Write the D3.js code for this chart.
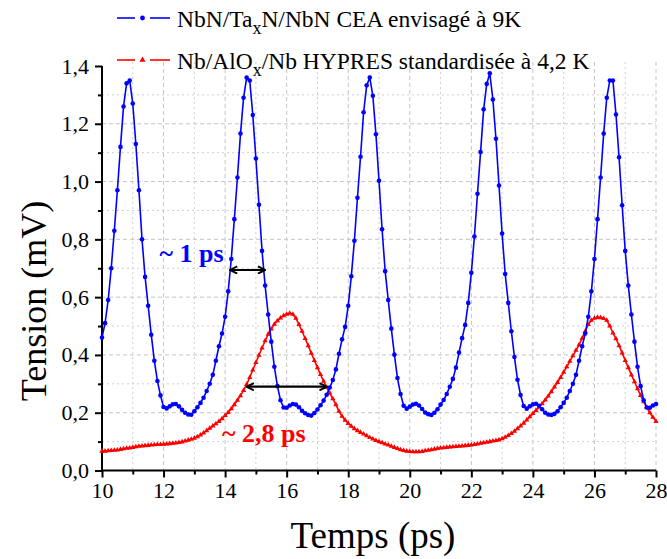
<!DOCTYPE html>
<html><head><meta charset="utf-8">
<script src="https://cdn.jsdelivr.net/npm/d3@7"></script>
<style>body{margin:0;background:#fff}svg{display:block}</style>
</head><body>
<svg id="chart" width="667" height="559"></svg>
<script>
// ---------- DATA ----------
const times = [10,10.1,10.2,10.3,10.4,10.5,10.6,10.7,10.8,10.9,11,11.1,11.2,11.3,11.4,11.5,11.6,11.7,11.8,11.9,
12,12.1,12.2,12.3,12.4,12.5,12.6,12.7,12.8,12.9,13,13.1,13.2,13.3,13.4,13.5,13.6,13.7,13.8,13.9,
14,14.1,14.2,14.3,14.4,14.5,14.6,14.7,14.8,14.9,15,15.1,15.2,15.3,15.4,15.5,15.6,15.7,15.8,15.9,
16,16.1,16.2,16.3,16.4,16.5,16.6,16.7,16.8,16.9,17,17.1,17.2,17.3,17.4,17.5,17.6,17.7,17.8,17.9,
18,18.1,18.2,18.3,18.4,18.5,18.6,18.7,18.8,18.9,19,19.1,19.2,19.3,19.4,19.5,19.6,19.7,19.8,19.9,
20,20.1,20.2,20.3,20.4,20.5,20.6,20.7,20.8,20.9,21,21.1,21.2,21.3,21.4,21.5,21.6,21.7,21.8,21.9,
22,22.1,22.2,22.3,22.4,22.5,22.6,22.7,22.8,22.9,23,23.1,23.2,23.3,23.4,23.5,23.6,23.7,23.8,23.9,
24,24.1,24.2,24.3,24.4,24.5,24.6,24.7,24.8,24.9,25,25.1,25.2,25.3,25.4,25.5,25.6,25.7,25.8,25.9,
26,26.1,26.2,26.3,26.4,26.5,26.6,26.7,26.8,26.9,27,27.1,27.2,27.3,27.4,27.5,27.6,27.7,27.8,27.9,28];

const nbnValues = [0.46,0.51,0.59,0.70,0.83,0.97,1.12,1.26,1.34,1.35,1.27,1.13,0.97,0.80,0.67,0.57,0.47,0.38,0.31,0.26,
0.22,0.215,0.222,0.229,0.23,0.222,0.21,0.2,0.194,0.193,0.205,0.219,0.234,0.252,0.275,0.30,0.331,0.38,0.43,0.474,
0.532,0.62,0.732,0.87,1.014,1.166,1.29,1.36,1.35,1.23,1.08,0.92,0.76,0.64,0.54,0.446,0.359,0.292,0.243,0.218,
0.217,0.225,0.23,0.228,0.219,0.207,0.198,0.192,0.19,0.199,0.211,0.226,0.242,0.262,0.287,0.313,0.35,0.404,0.454,0.497,
0.57,0.672,0.795,0.944,1.086,1.24,1.333,1.36,1.297,1.164,1.003,0.835,0.69,0.59,0.491,0.401,0.32,0.265,0.224,0.214,
0.221,0.228,0.231,0.225,0.213,0.201,0.195,0.192,0.2,0.212,0.228,0.244,0.265,0.29,0.317,0.356,0.408,0.458,0.504,0.58,
0.684,0.81,0.958,1.102,1.25,1.338,1.375,1.284,1.148,0.986,0.82,0.68,0.58,0.482,0.393,0.314,0.261,0.223,0.214,0.222,
0.229,0.231,0.224,0.212,0.2,0.194,0.192,0.196,0.205,0.219,0.234,0.252,0.275,0.30,0.331,0.38,0.43,0.474,0.532,0.62,
0.732,0.87,1.014,1.166,1.29,1.35,1.35,1.232,1.084,0.918,0.76,0.64,0.54,0.446,0.359,0.292,0.243,0.218,0.217,0.225,0.23];

const nbValues = [0.067,0.067,0.068,0.069,0.07,0.071,0.073,0.075,0.077,0.078,0.08,0.082,0.084,0.085,0.086,0.087,0.088,0.089,0.09,0.09,
0.091,0.092,0.093,0.094,0.095,0.097,0.099,0.102,0.105,0.108,0.112,0.117,0.123,0.13,0.138,0.146,0.154,0.162,0.17,0.179,
0.19,0.201,0.214,0.228,0.243,0.259,0.277,0.298,0.322,0.348,0.374,0.399,0.424,0.449,0.472,0.49,0.506,0.518,0.528,0.536,
0.541,0.544,0.541,0.527,0.505,0.482,0.457,0.432,0.406,0.381,0.356,0.332,0.309,0.288,0.268,0.248,0.228,0.205,0.188,0.174,
0.163,0.153,0.145,0.138,0.132,0.126,0.12,0.114,0.109,0.104,0.1,0.096,0.092,0.088,0.084,0.08,0.076,0.072,0.069,0.067,
0.066,0.065,0.065,0.065,0.066,0.068,0.07,0.072,0.074,0.076,0.078,0.079,0.08,0.081,0.082,0.083,0.084,0.085,0.086,0.087,
0.088,0.09,0.092,0.094,0.096,0.098,0.1,0.102,0.104,0.106,0.11,0.115,0.121,0.128,0.136,0.145,0.154,0.164,0.175,0.186,
0.197,0.208,0.219,0.231,0.244,0.258,0.273,0.289,0.305,0.322,0.34,0.359,0.378,0.397,0.416,0.435,0.458,0.482,0.505,0.52,
0.527,0.53,0.529,0.526,0.52,0.5,0.476,0.456,0.432,0.407,0.381,0.356,0.331,0.307,0.283,0.26,0.238,0.218,0.2,0.184,0.17];

const seriesNames = ["NbN/Ta|x|N/NbN CEA envisagé à 9K", "Nb/AlO|x|/Nb HYPRES standardisée à 4,2 K"];
const xTickValues = [10,12,14,16,18,20,22,24,26,28];
const xTickLabels = ["10","12","14","16","18","20","22","24","26","28"];
const yTickValues = [0,0.2,0.4,0.6,0.8,1.0,1.2,1.4];
const yTickLabels = ["0,0","0,2","0,4","0,6","0,8","1,0","1,2","1,4"];
const xTitle = "Temps (ps)";
const yTitle = "Tension (mV)";
// annotations
const annoLabels = ["~ 1 ps", "~ 2,8 ps"];
const annoArrowFrom = [14.16, 14.70];
const annoArrowTo = [15.30, 17.30];
const annoArrowValue = [0.694, 0.29];
const annoTextTime = [11.87, 13.9];
const annoTextValue = [0.72, 0.10];

// ---------- DRAW ----------
const svg = d3.select("#chart");
const L = 102, R = 656, T = 66, B = 470.5;
const x = d3.scaleLinear().domain([10, 28]).range([L, R]);
const y = d3.scaleLinear().domain([0, 1.4]).range([B, T]);
const serif = "'Liberation Serif','Times New Roman',serif";
const blue = "#0000ff", red = "#ff0000";

svg.append("rect").attr("width",667).attr("height",559).attr("fill","#fff");

// grid
const g = svg.append("g");
const xMinor = d3.range(11, 28, 2), yMinor = d3.range(0.1, 1.4, 0.2);
g.selectAll(".gxM").data(xTickValues.slice(1)).enter().append("line")
  .attr("x1", d=>x(d)).attr("x2", d=>x(d)).attr("y1", T-4).attr("y2", B)
  .attr("stroke","#c4c4c4").attr("stroke-width",1).attr("stroke-dasharray","4,3");
g.selectAll(".gxm").data(xMinor).enter().append("line")
  .attr("x1", d=>x(d)).attr("x2", d=>x(d)).attr("y1", T-4).attr("y2", B)
  .attr("stroke","#d0d0d0").attr("stroke-width",1).attr("stroke-dasharray","2,3");
g.selectAll(".gyM").data(yTickValues.slice(1,-1)).enter().append("line")
  .attr("x1", L).attr("x2", R).attr("y1", d=>y(d)).attr("y2", d=>y(d))
  .attr("stroke","#c4c4c4").attr("stroke-width",1).attr("stroke-dasharray","4,3");
g.selectAll(".gym").data(yMinor).enter().append("line")
  .attr("x1", L).attr("x2", R).attr("y1", d=>y(d)).attr("y2", d=>y(d))
  .attr("stroke","#d0d0d0").attr("stroke-width",1).attr("stroke-dasharray","2,3");

// axes
const xAxis = d3.axisBottom(x).tickValues(xTickValues).tickFormat((d,i)=>xTickLabels[i]).tickSize(7).tickPadding(5);
const xAxisMinor = d3.axisBottom(x).tickValues(xMinor).tickFormat("").tickSize(4);
const yAxis = d3.axisLeft(y).tickValues(yTickValues).tickFormat((d,i)=>yTickLabels[i]).tickSize(7).tickPadding(6);
const yAxisMinor = d3.axisLeft(y).tickValues(yMinor).tickFormat("").tickSize(4);

function styleAxis(sel){
  sel.select(".domain").attr("stroke","#000").attr("stroke-width",2);
  sel.selectAll(".tick line").attr("stroke","#000").attr("stroke-width",2);
  sel.selectAll("text").attr("font-family",serif).attr("font-size",22).attr("fill","#000");
}
const gx = svg.append("g").attr("transform",`translate(0,${B})`).call(xAxis).call(styleAxis);
gx.select(".domain").attr("d",`M${L},0H${R}`);
svg.append("g").attr("transform",`translate(0,${B})`).call(xAxisMinor).call(styleAxis).select(".domain").remove();
const gy = svg.append("g").attr("transform",`translate(${L},0)`).call(yAxis).call(styleAxis);
gy.select(".domain").attr("d",`M0,${T}V${B}`);
svg.append("g").attr("transform",`translate(${L},0)`).call(yAxisMinor).call(styleAxis).select(".domain").remove();

// titles
svg.append("text").attr("x",373).attr("y",548).attr("text-anchor","middle")
  .attr("font-family",serif).attr("font-size",37).text(xTitle);
svg.append("text").attr("transform",`translate(46,301) rotate(-90)`).attr("text-anchor","middle")
  .attr("font-family",serif).attr("font-size",36).text(yTitle);

// series
const blueData = times.map((t,i)=>({t, v:nbnValues[i]}));
const redData = times.map((t,i)=>({t, v:nbValues[i]}));
const line = d3.line().x(d=>x(d.t)).y(d=>y(d.v));
svg.append("path").datum(redData).attr("d",line).attr("fill","none").attr("stroke",red).attr("stroke-width",1.6);
svg.append("g").selectAll("path").data(redData).enter().append("path")
  .attr("d", d3.symbol(d3.symbolTriangle, 12)).attr("transform", d=>`translate(${x(d.t)},${y(d.v)})`).attr("fill",red);
svg.append("path").datum(blueData).attr("d",line).attr("fill","none").attr("stroke",blue).attr("stroke-width",1.6);
svg.append("g").selectAll("circle").data(blueData).enter().append("circle")
  .attr("cx", d=>x(d.t)).attr("cy", d=>y(d.v)).attr("r",2.3).attr("fill",blue);

// legend
const legY = [18, 60], legBase = [27, 69];
const legColors = [blue, red];
seriesNames.forEach((name,i)=>{
  const c = legColors[i];
  svg.append("line").attr("x1",117).attr("x2",135).attr("y1",legY[i]).attr("y2",legY[i]).attr("stroke",c).attr("stroke-width",1.6);
  svg.append("line").attr("x1",150).attr("x2",170).attr("y1",legY[i]).attr("y2",legY[i]).attr("stroke",c).attr("stroke-width",1.6);
  if(i===0) svg.append("circle").attr("cx",142.5).attr("cy",legY[i]).attr("r",2.4).attr("fill",c);
  else svg.append("path").attr("d",d3.symbol(d3.symbolTriangle,16)).attr("transform",`translate(142.5,${legY[i]})`).attr("fill",c);
  const parts = name.split("|");
  const tx = svg.append("text").attr("x",177).attr("y",legBase[i]).attr("font-family",serif).attr("font-size",23.5).attr("fill","#000");
  tx.append("tspan").text(parts[0]);
  tx.append("tspan").attr("dy",7).attr("font-size",18).text(parts[1]);
  tx.append("tspan").attr("dy",-7).text(parts[2]);
});

// annotations
const defs = svg.append("defs");
["s","e"].forEach(k=>{
  defs.append("marker").attr("id","ah"+k).attr("viewBox","0 0 10 10").attr("refX", 9).attr("refY",5)
    .attr("markerWidth",9).attr("markerHeight",9).attr("orient","auto-start-reverse").attr("markerUnits","userSpaceOnUse")
    .append("path").attr("d","M1,1L9,5L1,9").attr("fill","none").attr("stroke","#000").attr("stroke-width",2.2);
});
const annoColors = [blue, red];
annoLabels.forEach((lab,i)=>{
  svg.append("line").attr("x1",x(annoArrowFrom[i])).attr("x2",x(annoArrowTo[i]))
    .attr("y1",y(annoArrowValue[i])).attr("y2",y(annoArrowValue[i]))
    .attr("stroke","#000").attr("stroke-width",2.2)
    .attr("marker-start","url(#ahs)").attr("marker-end","url(#ahe)");
  svg.append("text").attr("x",x(annoTextTime[i])).attr("y",y(annoTextValue[i]))
    .attr("font-family",serif).attr("font-weight","bold").attr("font-size",26).attr("fill",annoColors[i]).text(lab);
});
</script>
</body></html>
